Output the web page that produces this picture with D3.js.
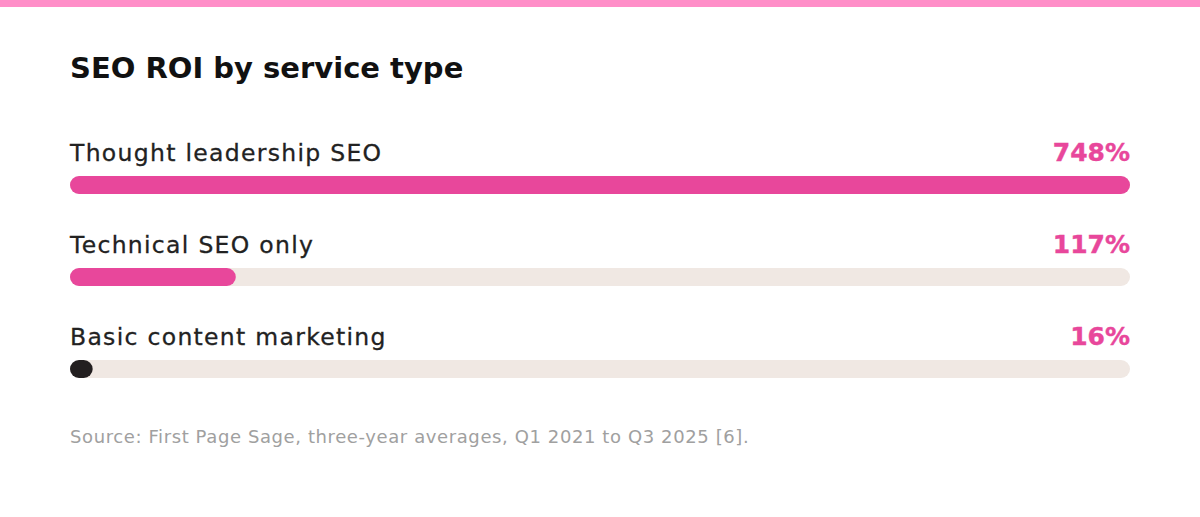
<!DOCTYPE html>
<html><head><meta charset="utf-8">
<script src="https://cdn.jsdelivr.net/npm/d3@7"></script>
<style>
html,body{margin:0;padding:0;background:#fff;}
svg{display:block;font-family:"DejaVu Sans","Noto Sans",sans-serif;}
</style></head>
<body>
<svg id="chart" width="1200" height="517"></svg>
<script>
const title = "SEO ROI by service type";
const categories = ["Thought leadership SEO", "Technical SEO only", "Basic content marketing"];
const values = [748, 117, 16];
const valueLabels = ["748%", "117%", "16%"];
const barColors = ["#e8479b", "#e8479b", "#231f20"];
const source = "Source: First Page Sage, three-year averages, Q1 2021 to Q3 2025 [6].";

const svg = d3.select("#chart");
const W = 1200, H = 517;
const left = 70, right = 1130;

svg.append("rect").attr("x",0).attr("y",0).attr("width",W).attr("height",7).attr("fill","#ff8ec8");

svg.append("text").attr("x",left).attr("y",78)
  .attr("font-size",29).attr("font-weight","bold").attr("fill","#111")
  .text(title);

const x = d3.scaleLinear().domain([0, d3.max(values)]).range([0, right-left]);
const y = d3.scaleBand().domain(categories).range([130, 406]).paddingInner(0);
const barH = 18;

const g = svg.selectAll("g.row").data(categories).enter().append("g").attr("class","row")
  .attr("transform", d => `translate(0,${y(d)})`);

g.append("text").attr("x",left).attr("y",31)
  .attr("font-size",23.5).attr("letter-spacing",1.3).attr("fill","#222")
  .attr("stroke","#222").attr("stroke-width",0.3).text(d => d);
g.append("text").attr("x",right).attr("y",31).attr("text-anchor","end")
  .attr("font-size",25).attr("font-weight","bold").attr("fill","#e8479b")
  .attr("stroke","#e8479b").attr("stroke-width",0.4)
  .text((d,i) => valueLabels[i]);
g.append("rect").attr("x",left).attr("y",46).attr("width",right-left).attr("height",barH)
  .attr("rx",barH/2).attr("fill","#f0e8e3");
g.append("rect").attr("x",left).attr("y",46)
  .attr("width",(d,i) => Math.max(x(values[i]), barH))
  .attr("height",barH).attr("rx",barH/2)
  .attr("fill",(d,i) => barColors[i]);

svg.append("text").attr("x",left).attr("y",443)
  .attr("font-size",18).attr("letter-spacing",0.6).attr("fill","#a0a0a0").text(source);
</script>
</body></html>
